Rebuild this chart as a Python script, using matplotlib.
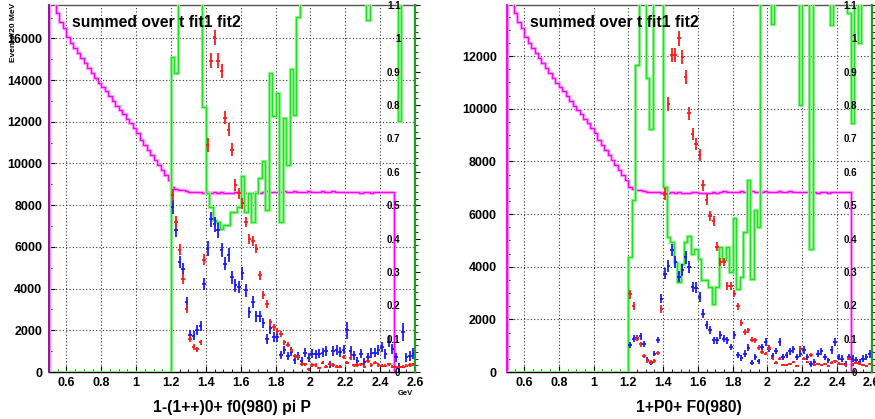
import numpy as np
import matplotlib
matplotlib.use("Agg")
import matplotlib.pyplot as plt
from matplotlib.ticker import MultipleLocator, FormatStrFormatter

plt.rcParams['font.family'] = ['Liberation Sans', 'DejaVu Sans']
plt.rcParams['font.weight'] = 'bold'

# ---------------- data ----------------
# bin centres of the fitted mass bins (20 MeV bins from 1.20 to 2.60 GeV)
mass = np.linspace(1.21, 2.59, 70)

# left panel: 1-(1++)0+ f0(980) pi P
left_red = [8490, 7200, 5870, 4470, 3020, 1575, 1205, 1095, 1415, 5390,
            10900, 14920, 16050, 14920, 14440, 12190, 11625, 10660, 8970, 8570,
            8090, 7200, 6400, 6290, 5920, 4630, 3710, 3260, 2380, 2140,
            1980, 1820, 1415, 1300, 1060, 770, 720, 370, 370, 130,
            340, 340, 180, 450, 260, 370, 340, 260, 260, 720,
            450, 690, 320, 340, 370, 260, 530, 340, 450, 340,
            290, 290, 370, 260, 240, 240, 260, 290, 340, 370]
left_red_err = [300, 280, 260, 230, 200, 150, 130, 120, 140, 250,
                330, 360, 370, 360, 350, 320, 310, 300, 280, 270,
                270, 250, 240, 240, 230, 210, 190, 180, 160, 150,
                150, 140, 130, 120, 110, 100, 100, 80, 80, 60,
                80, 80, 60, 90, 70, 80, 80, 70, 70, 110,
                90, 110, 80, 80, 80, 70, 100, 80, 90, 80,
                70, 70, 80, 70, 70, 70, 70, 70, 80, 80]
left_blue = [7930, 6800, 5270, 4950, 3340, 1785, 1735, 2010, 2220, 4230,
             5920, 7320, 7090, 6800, 5840, 5200, 5600, 4550, 4150, 4070,
             4740, 3910, 2860, 3340, 2670, 2670, 2350, 1575, 2090, 1655,
             1655, 820, 1060, 770, 965, 580, 770, 530, 930, 690,
             880, 850, 880, 930, 1010, 370, 1010, 1050, 960, 1070,
             2000, 1010, 800, 530, 870, 480, 700, 900, 930, 1050,
             1200, 850, 1450, 1100, 700, 250, 1930, 700, 770, 880]
left_blue_err = [330, 320, 300, 300, 280, 220, 220, 230, 240, 300,
                 340, 360, 360, 350, 340, 320, 330, 310, 300, 300,
                 310, 300, 280, 290, 270, 270, 260, 230, 250, 240,
                 240, 200, 210, 200, 210, 190, 200, 190, 210, 200,
                 210, 210, 210, 220, 220, 170, 230, 230, 220, 230,
                 420, 230, 220, 200, 220, 190, 210, 230, 230, 240,
                 250, 230, 270, 250, 220, 180, 420, 230, 240, 250]
left_green = [0.943, 0.897, 1.5, 1.5, 1.5, 1.5, 1.5, 1.5, 1.5, 0.795,
              0.538, 0.495, 0.455, 0.45, 0.43, 0.44, 0.44, 0.48, 0.48, 0.495,
              0.586, 0.48, 0.536, 0.45, 0.536, 0.581, 0.631, 0.485, 0.895, 0.767,
              0.835, 0.45, 0.76, 0.62, 0.909, 0.77, 1.063, 1.5, 1.5, 1.5,
              1.5, 1.5, 1.5, 1.5, 1.5, 1.5, 1.5, 1.5, 1.5, 1.5,
              1.5, 1.5, 1.5, 1.5, 1.5, 1.5, 1.056, 1.5, 1.5, 1.5,
              1.5, 1.5, 1.5, 1.5, 1.5, 0.752, 1.5, 1.5, 1.5, 1.5]

# right panel: 1+P0+ F0(980)
right_red = [2950, 2500, 1270, 1050, 600, 420, 380, 420, 720, 2410,
             6750, 10180, 12040, 12040, 12680, 11960, 11220, 9820, 9040, 8660,
             8240, 7100, 6550, 5930, 5730, 4750, 4180, 4180, 3260, 3260,
             2980, 2500, 1860, 1520, 1590, 1230, 1200, 930, 750, 700,
             900, 520, 350, 500, 250, 260, 300, 380, 230, 890,
             500, 380, 650, 280, 300, 250, 300, 230, 350, 400,
             320, 300, 280, 500, 280, 350, 320, 270, 230, 300]
right_red_err = [160, 150, 110, 100, 80, 70, 60, 70, 90, 150,
                 230, 260, 280, 280, 290, 280, 270, 250, 240, 230,
                 230, 210, 200, 190, 190, 170, 160, 160, 140, 140,
                 140, 130, 110, 100, 100, 90, 90, 80, 70, 70,
                 80, 60, 50, 60, 40, 40, 50, 50, 40, 80,
                 60, 50, 70, 45, 45, 40, 45, 40, 50, 55,
                 50, 45, 45, 60, 45, 50, 50, 45, 40, 45]
right_blue = [1015, 1270, 1290, 1360, 1050, 470, 340, 700, 1205, 2790,
              3740, 4020, 4630, 4180, 3610, 3870, 4350, 3990, 3230, 3200,
              2850, 2220, 1775, 1585, 1205, 1205, 1395, 1270, 1205, 950,
              1395, 635, 540, 700, 920, 360, 570, 400, 950, 1140,
              890, 600, 800, 1140, 570, 640, 780, 870, 570, 700,
              830, 570, 300, 380, 700, 780, 570, 440, 830, 1140,
              570, 500, 300, 570, 500, 440, 380, 500, 570, 700]
right_blue_err = [110, 130, 130, 130, 110, 90, 80, 100, 120, 180,
                  210, 220, 230, 220, 210, 220, 230, 220, 200, 200,
                  190, 170, 160, 150, 140, 140, 150, 140, 140, 130,
                  150, 110, 110, 120, 130, 100, 110, 100, 130, 140,
                  130, 120, 130, 140, 120, 120, 130, 130, 120, 130,
                  140, 120, 100, 110, 130, 140, 120, 110, 140, 160,
                  130, 130, 110, 130, 130, 130, 120, 130, 130, 150]
right_green = [0.344, 0.516, 0.92, 1.5, 1.5, 0.882, 0.728, 1.5, 1.5, 1.5,
               0.553, 0.404, 0.39, 0.33, 0.27, 0.325, 0.39, 0.408, 0.355, 0.368,
               0.34, 0.275, 0.275, 0.255, 0.205, 0.255, 0.375, 0.335, 0.375, 0.30,
               0.461, 0.25, 0.285, 0.42, 0.576, 0.28, 0.486, 0.435, 1.5, 1.5,
               1.5, 1.042, 1.5, 1.5, 1.5, 1.5, 1.5, 1.5, 1.5, 0.80,
               1.5, 1.5, 0.368, 1.5, 1.5, 1.5, 1.5, 1.5, 1.039, 1.5,
               1.5, 1.5, 1.5, 1.077, 0.746, 1.5, 0.987, 1.5, 1.5, 1.5]

# magenta curve (right-hand scale), 20 MeV bins from 0.50 to 2.48 GeV
accept = [1.20, 1.13, 1.075, 1.05, 1.03, 1.005, 0.985, 0.97, 0.955, 0.94,
          0.925, 0.91, 0.895, 0.88, 0.865, 0.855, 0.842, 0.828, 0.812, 0.798,
          0.785, 0.772, 0.758, 0.745, 0.73, 0.716, 0.695, 0.68, 0.665, 0.65,
          0.636, 0.62, 0.605, 0.59, 0.575, 0.555, 0.548,
          0.546, 0.545, 0.543, 0.541, 0.540, 0.539, 0.539, 0.538, 0.539, 0.538,
          0.539, 0.538, 0.540, 0.538, 0.537, 0.538, 0.539, 0.540, 0.538, 0.537,
          0.536, 0.537, 0.539, 0.538, 0.540, 0.542, 0.541, 0.539, 0.540, 0.541,
          0.542, 0.540, 0.541, 0.543, 0.541, 0.540, 0.541, 0.542, 0.540, 0.541,
          0.541, 0.542, 0.541, 0.540, 0.542, 0.541, 0.539, 0.540, 0.541, 0.539,
          0.541, 0.540, 0.538, 0.540, 0.539, 0.538, 0.540, 0.539, 0.540, 0.539,
          0.540, 0.540]
accept_edges = np.linspace(0.50, 2.48, len(accept) + 1)
green_edges = np.linspace(0.50, 2.60, 106)

title = "summed over t fit1 fit2"
xlabels = ["1-(1++)0+ f0(980) pi P", "1+P0+ F0(980)"]

W, H = 875, 419
fig = plt.figure(figsize=(W / 100, H / 100), dpi=100)


def panel(x0, x1, ymax, minor_y, red, red_err, blue, blue_err, green,
          xlabel, left_spine_col, spine_on_top, ypad):
    y0, y1 = 372, 5
    ax = fig.add_axes([x0 / W, 1 - y0 / H, (x1 - x0) / W, (y0 - y1) / H])
    ax.set_xlim(0.5, 2.6)
    ax.set_ylim(0, ymax)
    scale = ymax / 1.1

    grid_kw = dict(color='#333333', lw=0.8, ls=(0, (1, 2)))
    ax.grid(True, which='major', **grid_kw)
    ax.set_axisbelow(True)

    # magenta curve with light halo
    acc = np.array(accept) * scale
    ax.stairs(acc, accept_edges, baseline=0, color='#ffb3ff', lw=2.4, zorder=3)
    ax.stairs(acc, accept_edges, baseline=0, color='#ff00ff', lw=1.0, zorder=3.1)

    # green curve
    g = np.concatenate([np.zeros(35), np.array(green)]) * scale
    ax.stairs(g, green_edges, baseline=0, color='#9cf59c', lw=2.4, zorder=3.2)
    ax.stairs(g, green_edges, baseline=0, color='#22e022', lw=1.0, zorder=3.3)

    # data points
    ax.errorbar(mass, blue, yerr=blue_err, xerr=0.01, fmt='none',
                ecolor='#1a1aff', elinewidth=1.3, capsize=0, zorder=4)
    ax.errorbar(mass, red, yerr=red_err, xerr=0.01, fmt='none',
                ecolor='#ff1a1a', elinewidth=1.3, capsize=0, zorder=4.2)

    ax.xaxis.set_major_locator(MultipleLocator(0.2))
    ax.xaxis.set_minor_locator(MultipleLocator(0.05))
    ax.xaxis.set_major_formatter(FormatStrFormatter('%g'))
    ax.yaxis.set_major_locator(MultipleLocator(2000))
    ax.yaxis.set_minor_locator(MultipleLocator(minor_y))
    ax.tick_params(axis='both', which='both', direction='in',
                   top=False, right=False, labelsize=9)
    ax.tick_params(axis='both', which='major', length=4)
    ax.tick_params(axis='both', which='minor', length=2)
    ax.tick_params(axis='x', pad=3.5)
    ax.tick_params(axis='y', pad=ypad)
    for s in ax.spines.values():
        s.set_linewidth(1.0)
    ax.spines['top'].set_color('#555555')
    ax.spines['left'].set_color(left_spine_col)
    ax.spines['left'].set_linewidth(1.4)
    if spine_on_top:
        ax.spines['left'].set_zorder(5)
    ax.spines['right'].set_visible(False)

    ax.text(0.064, 0.951, title, transform=ax.transAxes, fontsize=11.3,
            fontweight='bold', ha='left', va='center', zorder=6)
    fig.text((x0 + x1) / 2 / W, 1 - 407 / H, xlabel, fontsize=11.3,
             fontweight='bold', ha='center', va='center')

    # right-hand scale 0 .. 1.1
    ax2 = ax.twinx()
    ax2.set_ylim(0, 1.1)
    rticks = np.round(np.arange(0, 1.101, 0.1), 2)
    ax2.set_yticks(rticks)
    ax2.set_yticklabels(['%g' % t for t in rticks])
    ax2.yaxis.set_minor_locator(MultipleLocator(0.02))
    ax2.tick_params(axis='y', which='both', direction='out', labelsize=7,
                    pad=-14)
    ax2.tick_params(axis='y', which='major', length=3.5)
    ax2.tick_params(axis='y', which='minor', length=2)
    for lab in ax2.get_yticklabels():
        lab.set_horizontalalignment('right')
    for k in ('top', 'bottom', 'left'):
        ax2.spines[k].set_visible(False)
    ax2.spines['right'].set_color('#1fa01f')
    ax2.spines['right'].set_linewidth(1.6)
    return ax


axL = panel(49, 415, 17600, 1000, left_red, left_red_err, left_blue,
            left_blue_err, left_green, xlabels[0], '#8a1a8a', True, 5)
axR = panel(506.7, 871.7, 13940, 500, right_red, right_red_err, right_blue,
            right_blue_err, right_green, xlabels[1], '#ff00ff', False, 7)

fig.text(13.5 / W, 1 - 3 / H, "Events/20 MeV", rotation=90, fontsize=6,
         fontweight='bold', ha='center', va='top')
fig.text(405 / W, 1 - 393 / H, "GeV", fontsize=5.5, fontweight='bold',
         ha='center', va='center')

fig.savefig("out.png", dpi=100)
